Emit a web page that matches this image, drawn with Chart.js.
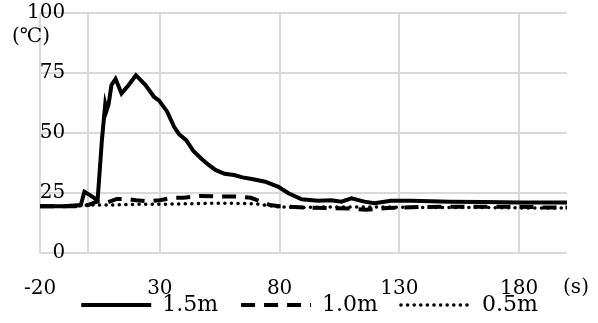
<!DOCTYPE html>
<html>
<head>
<meta charset="utf-8">
<script src="https://cdn.jsdelivr.net/npm/chart.js@4.4.0/dist/chart.umd.min.js"></script>
<style>
  html, body { margin: 0; padding: 0; background: #fff; }
</style>
</head>
<body>
<canvas id="tempChart" width="598" height="323"></canvas>
<script>
"use strict";

// 測定点: 時刻 (s) と温度 (℃)
const t15 = [-20, -10, -3, -1.5, 1, 3.2, 4, 5.8, 7.2, 7.8, 8.6, 9.8, 11.5, 14, 17, 20, 22, 24, 27.6, 29.7,
  33, 36, 38, 41, 44, 47.7, 50.4, 53.2, 57, 61, 64.5, 68.4, 74, 79.5, 83.7, 89.2, 96, 101.6, 105.8, 110,
  115.4, 119.6, 126.5, 135, 151, 165, 180, 200];
const temp15 = [19.5, 19.5, 20, 25.5, 24, 22.5, 22, 47, 62, 59.5, 62, 70, 72.5, 66.5, 70, 74, 72, 70, 65, 63.5,
  59, 52.5, 49.5, 47, 42.5, 39, 36.7, 34.6, 33, 32.5, 31.5, 30.8, 29.7, 27.6, 24.9, 22.4, 21.8, 22, 21.4, 22.8,
  21.4, 20.7, 21.8, 21.8, 21.4, 21.2, 21, 21];

const t10 = [-20, -5, 0, 4, 8, 12, 16, 20, 25, 30, 35, 40, 47, 55, 63, 68, 72, 76, 80, 90,
  100, 110, 116, 125, 140, 150, 160, 170, 180, 190, 200];
const temp10 = [19.5, 19.5, 20, 21.5, 21, 22.5, 22.5, 22, 21.5, 22, 23, 23, 23.8, 23.5, 23.5, 23, 21.5, 20, 19.5, 19,
  18.7, 18.5, 18, 18.7, 19.2, 19.3, 19.3, 19.3, 19.3, 19, 19];

const t05 = [-20, -5, 0, 10, 20, 30, 40, 50, 60, 70, 75, 80, 90, 100, 120, 140, 160, 180, 200];
const temp05 = [19.5, 19.5, 20, 20, 20.3, 20.3, 20.5, 20.7, 20.7, 20.5, 19.8, 19.2, 19, 19.2, 19.2, 19, 19, 18.8, 18.8];

const xTicks = [-20, 0, 30, 80, 130, 180];
const seriesNames = ["1.5m", "1.0m", "0.5m"];

const serif = "'DejaVu Serif', 'Liberation Serif', serif";
const gridColor = "#d9d9d9";

const toPoints = (xs, ys) => xs.map((x, i) => ({ x, y: ys[i] }));

// 目盛ラベルを軸の枠外にはみ出して描けるようにする
const noLabelClip = (scale) => {
  scale._computeLabelArea = () => null;
};

// 軸の単位 (℃), (s) と凡例の位置調整
const unitLabels = {
  id: "unitLabels",
  afterLayout(chart) {
    chart.legend.left += 26;
    chart.legend.right += 26;
  },
  afterDraw(chart) {
    const ctx = chart.ctx;
    ctx.save();
    ctx.fillStyle = "#000";
    ctx.font = "20px " + serif;
    ctx.textAlign = "center";
    ctx.textBaseline = "middle";
    ctx.fillText("(℃)", 31, 37);
    ctx.fillText("(s)", 576, 288);
    ctx.restore();
  },
};

new Chart(document.getElementById("tempChart"), {
  type: "line",
  data: {
    datasets: [
      {
        label: seriesNames[0],
        data: toPoints(t15, temp15),
        borderColor: "#000",
        backgroundColor: "#000",
        borderWidth: 4,
      },
      {
        label: seriesNames[1],
        data: toPoints(t10, temp10),
        borderColor: "#000",
        backgroundColor: "#000",
        borderWidth: 4,
        borderDash: [14, 9],
      },
      {
        label: seriesNames[2],
        data: toPoints(t05, temp05),
        borderColor: "#000",
        backgroundColor: "#000",
        borderWidth: 3.5,
        borderDash: [0.1, 6.5],
        borderCapStyle: "round",
      },
    ],
  },
  options: {
    responsive: false,
    animation: false,
    layout: { padding: { top: 13, right: 31, left: 0, bottom: 0 } },
    elements: {
      point: { radius: 0 },
      line: { tension: 0, fill: false },
    },
    plugins: {
      tooltip: { enabled: false },
      legend: {
        position: "bottom",
        maxHeight: 52,
        labels: {
          color: "#000",
          font: { family: serif, size: 22 },
          usePointStyle: true,
          pointStyle: "line",
          pointStyleWidth: 70,
          padding: 23,
          generateLabels(chart) {
            const items = Chart.defaults.plugins.legend.labels.generateLabels(chart);
            return items.map((item) => {
              const ds = chart.data.datasets[item.datasetIndex];
              item.lineDash = ds.borderDash || [];
              item.lineWidth = ds.borderWidth;
              item.lineCap = ds.borderCapStyle || "butt";
              item.pointStyle = "line";
              return item;
            });
          },
        },
      },
    },
    scales: {
      x: {
        type: "linear",
        min: -20,
        max: 200,
        afterBuildTicks: (scale) => {
          scale.ticks = xTicks.map((v) => ({ value: v }));
        },
        afterFit: (scale) => {
          scale.height = 18;
          noLabelClip(scale);
        },
        border: { display: false },
        grid: { color: gridColor, lineWidth: 2, drawTicks: false },
        ticks: {
          color: "#000",
          font: { family: serif, size: 20 },
          padding: 24,
          maxRotation: 0,
          autoSkip: false,
          callback: (v) => (v === 0 ? "" : v),
        },
      },
      y: {
        min: 0,
        max: 100,
        afterFit: (scale) => {
          scale.width = 37;
          noLabelClip(scale);
        },
        border: { display: false },
        grid: { color: gridColor, lineWidth: 2, drawTicks: false },
        ticks: {
          stepSize: 25,
          color: "#000",
          font: { family: serif, size: 20 },
          padding: -25,
        },
      },
    },
  },
  plugins: [unitLabels],
});
</script>
</body>
</html>
